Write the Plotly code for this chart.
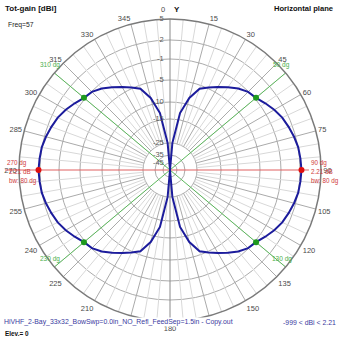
import numpy as np
import plotly.graph_objects as go

# ---------------- data ----------------
# Sample angles (deg, azimuth, clockwise from top) and total gain (dBi)
THETA = list(range(0, 360, 5)) + [360]
GAIN_DBI = [
    -999, -25, -13, -8.5, -5.8, -4.8, -3.9, -2.9, -1.9, -1.1, -0.79, -0.16, 0.48, 1.03, 1.4, 1.75, 2.03, 2.13, 2.21,
    2.13, 2.03, 1.75, 1.4, 1.03, 0.48, -0.16, -0.79, -1.1, -1.9, -2.9, -3.9, -4.8, -5.8, -8.5, -13, -25, -999,
    -25, -13, -8.5, -5.8, -4.8, -3.9, -2.9, -1.9, -1.1, -0.79, -0.16, 0.48, 1.03, 1.4, 1.75, 2.03, 2.13, 2.21,
    2.13, 2.03, 1.75, 1.4, 1.03, 0.48, -0.16, -0.79, -1.1, -1.9, -2.9, -3.9, -4.8, -5.8, -8.5, -13, -25,
    -999,
]
MAX_THETA = [90, 270]
MAX_GAIN = [2.21, 2.21]
BW_THETA = [50, 130, 230, 310]
BW_GAIN = [-0.79, -0.79, -0.79, -0.79]
BW_LABELS = ["50 dg", "130 dg", "230 dg", "310 dg"]

RING_DB = [5, 2, -1, -5, -10, -15, -25, -35, -45]
RING_LABELS = ["5", "2", "-1", "-5", "-10", "-15", "-25", "-35", "-45"]
ANGLE_TICKS = list(range(15, 360, 15))
ANGLE_LABELS = [str(a) for a in ANGLE_TICKS]

# ---------------- scale (4nec2 style, non-linear dB rings) ----------------
SCALE_DB = [-45, -35, -25, -15, -10, -5, -1, 2, 5]
SCALE_R = [0.046, 0.099, 0.179, 0.338, 0.450, 0.596, 0.735, 0.861, 1.0]

FONT = "Liberation Sans, Arial, sans-serif"
W = 339
CX, CY, R = 170, 170, 151  # polar centre / radius in pixels (matches domain below)


def db_to_r(v):
    v = np.asarray(v, dtype=float)
    return np.where(v < SCALE_DB[0], 0.0, np.interp(v, SCALE_DB, SCALE_R))


ring_r = db_to_r(RING_DB)
r_inner = float(db_to_r(-25))

fig = go.Figure()

# spokes (minor 5 deg, major 15 deg) from -25 dB ring outward
minor_t, minor_r, major_t, major_r = [], [], [], []
for a in range(0, 360, 5):
    if a % 90 == 0:
        continue
    if a % 15 == 0:
        major_t += [a, a, None]
        major_r += [r_inner, 1, None]
    else:
        minor_t += [a, a, None]
        minor_r += [r_inner, 1, None]
fig.add_trace(go.Scatterpolar(theta=minor_t, r=minor_r, mode="lines",
                              line=dict(color="#d8d8d8", width=1), hoverinfo="skip"))
fig.add_trace(go.Scatterpolar(theta=major_t, r=major_r, mode="lines",
                              line=dict(color="#aaaaaa", width=1), hoverinfo="skip"))
# vertical axis line through center
fig.add_trace(go.Scatterpolar(theta=[0, 180], r=[1, 1], mode="lines",
                              line=dict(color="#8a8a8a", width=1), hoverinfo="skip"))
# green beamwidth lines
fig.add_trace(go.Scatterpolar(theta=[BW_THETA[0], BW_THETA[2], None, BW_THETA[1], BW_THETA[3]],
                              r=[1, 1, None, 1, 1], mode="lines",
                              line=dict(color="#5cb85c", width=1), hoverinfo="skip"))
# red max-gain line
fig.add_trace(go.Scatterpolar(theta=[MAX_THETA[1], MAX_THETA[0]], r=[1, 0.92], mode="lines",
                              line=dict(color="#e06060", width=1), hoverinfo="skip"))

# pattern
fig.add_trace(go.Scatterpolar(theta=THETA, r=db_to_r(GAIN_DBI), mode="lines",
                              line=dict(color="#1c1c9c", width=2), hoverinfo="skip"))
fig.add_trace(go.Scatterpolar(theta=BW_THETA, r=db_to_r(BW_GAIN), mode="markers",
                              marker=dict(color="#1f9a1f", size=6), hoverinfo="skip"))
fig.add_trace(go.Scatterpolar(theta=MAX_THETA, r=db_to_r(MAX_GAIN), mode="markers",
                              marker=dict(color="#e01010", size=6), hoverinfo="skip"))

# ring labels
fig.add_trace(go.Scatterpolar(theta=[0] * len(RING_DB), r=ring_r, mode="text",
                              text=[t + "   " for t in RING_LABELS], textposition="middle left",
                              textfont=dict(family=FONT, size=7.5, color="#5a5a5a"),
                              cliponaxis=False, hoverinfo="skip"))

ann = []


def label(x, y, text, size=8, color="#000000", bold=False, anchor="left", bg=None):
    d = dict(x=x / W, y=1 - y / W, xref="paper", yref="paper",
             text=("<b>%s</b>" % text) if bold else text,
             showarrow=False, xanchor=anchor, yanchor="middle",
             font=dict(family=FONT, size=size, color=color))
    if bg:
        d.update(bgcolor=bg, borderpad=0)
    ann.append(d)


# green beamwidth labels, just above the outer ends of the green lines
for th, txt in zip(BW_THETA, BW_LABELS):
    ex = CX + R * np.sin(np.radians(th))
    ey = CY - R * np.cos(np.radians(th))
    label(ex - 4, ey - 8, txt, 6.5, "#4caf4c", anchor="center")

label(3, 8, "Tot-gain [dBi]", 8, "#111111", True)
label(6, 25, "Freq=57", 6.8, "#222222")
label(335, 8, "Horizontal plane", 7.6, "#111111", True, "right")
label(163, 9, "0", 7.5, "#4a4a4a", anchor="center")
label(177, 9, "Y", 8, "#111111", True, anchor="center")
label(3, 322, "HiVHF_2-Bay_33x32_BowSwp=0.0in_NO_Refl_FeedSep=1.5in - Copy.out", 6.9, "#3a3aa0", bg="white")
label(337, 322, "-999 < dBi < 2.21", 6.9, "#3a3aa0", anchor="right", bg="white")
label(3, 333, "Elev.= 0", 6.4, "#111111", True)
# max gain labels
for xx, deg in [(5, "270 dg"), (309, "90 dg")]:
    label(xx, 163, deg, 6.3, "#d03a3a")
for xx in [7, 309]:
    label(xx, 171, "2.21 dB", 6.3, "#d03a3a")
    label(xx, 181, "bw: 80 dg", 6.3, "#d03a3a")

fig.update_layout(
    width=W, height=W,
    margin=dict(l=0, r=0, t=0, b=0),
    paper_bgcolor="white",
    showlegend=False,
    annotations=ann,
    shapes=[dict(type="line", xref="paper", yref="paper", x0=5 / W, x1=20 / W,
                 y0=1 - CY / W, y1=1 - CY / W, line=dict(color="#e06060", width=1))],
    polar=dict(
        domain=dict(x=[(CX - R) / W, (CX + R) / W], y=[1 - (CY + R) / W, 1 - (CY - R) / W]),
        bgcolor="white",
        angularaxis=dict(rotation=90, direction="clockwise", showgrid=False, showticklabels=True,
                         tickmode="array", tickvals=ANGLE_TICKS, ticktext=ANGLE_LABELS,
                         tickfont=dict(family=FONT, size=7.5, color="#4a4a4a"),
                         ticks="", showline=True, linecolor="#7a7a7a", linewidth=1.5),
        radialaxis=dict(range=[0, 1], tickvals=list(ring_r), showticklabels=False, ticks="",
                        showline=False, gridcolor="#ababab", gridwidth=1),
    ),
)

fig.write_html("out.html")
